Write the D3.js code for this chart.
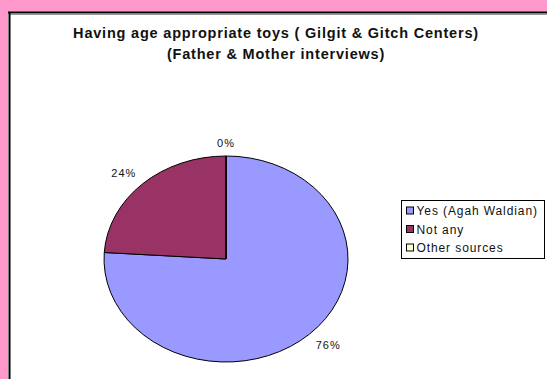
<!DOCTYPE html>
<html>
<head>
<meta charset="utf-8">
<script src="https://cdn.jsdelivr.net/npm/d3@7"></script>
<style>
  body { margin: 0; background: #ff99cc; }
  svg { display: block; }
</style>
</head>
<body>
<svg width="547" height="379"></svg>
<script>
var categories = ["Yes (Agah Waldian)", "Not any", "Other sources"];
var values = [76, 24, 0];
var colors = ["#9999ff", "#993366", "#ffffcc"];
var titleLines = ["Having age appropriate toys ( Gilgit & Gitch Centers)", "(Father & Mother interviews)"];

var svg = d3.select("svg");
var font = "Liberation Sans, Arial, sans-serif";

// white chart area, black frame on left/top
svg.append("rect").attr("x", 8).attr("y", 12).attr("width", 600).attr("height", 400)
  .style("fill", "#fff");
svg.append("line").attr("x1", 10).attr("x2", 547).attr("y1", 14.5).attr("y2", 14.5)
  .style("stroke", "#999").style("stroke-width", 1);
svg.append("line").attr("x1", 8).attr("x2", 547).attr("y1", 12.5).attr("y2", 12.5)
  .style("stroke", "#000").style("stroke-width", 2);
svg.append("line").attr("x1", 9.5).attr("x2", 9.5).attr("y1", 12).attr("y2", 379)
  .style("stroke", "#000").style("stroke-width", 2);

svg.selectAll("text.title").data(titleLines).enter().append("text")
  .attr("class", "title")
  .attr("x", 276)
  .attr("y", function(d, i) { return 37.5 + i * 21 })
  .attr("text-anchor", "middle")
  .attr("font-family", font)
  .attr("font-size", "14.5px")
  .attr("font-weight", "bold")
  .attr("letter-spacing", "0.8px")
  .style("fill", "#111")
  .text(function(d) { return d });

// pie drawn round, then squashed into an ellipse
var cx = 226, cy = 259, rx = 122, ry = 103;
var pie = d3.pie().sort(null).value(function(d) { return d });
var arcs = pie(values);
var arc = d3.arc().innerRadius(0).outerRadius(1);

var g = svg.append("g")
  .attr("transform", "translate(" + cx + "," + cy + ") scale(" + rx + "," + ry + ")");
g.selectAll("path").data(arcs).enter().append("path")
  .attr("d", arc)
  .attr("vector-effect", "non-scaling-stroke")
  .style("fill", function(d, i) { return colors[i] })
  .style("stroke", "#000")
  .style("stroke-width", 1);

// percentage labels just outside the rim
var total = d3.sum(values);
var gap = 9;
var sgn = function(v) { return Math.abs(v) < 1e-6 ? 0 : Math.sign(v) };
var labels = svg.selectAll("text.pct").data(arcs).enter().append("text")
  .attr("class", "pct")
  .attr("text-anchor", "middle")
  .attr("font-family", font)
  .attr("font-size", "11px")
  .attr("letter-spacing", "1px")
  .style("fill", "#111")
  .text(function(d) { return Math.round(d.value / total * 100) + "%" });
labels.each(function(d) {
  var a = (d.startAngle + d.endAngle) / 2;
  var s = Math.sin(a), c = Math.cos(a);
  var px = cx + s * rx, py = cy - c * ry;
  var hw = this.getComputedTextLength() / 2;
  d3.select(this)
    .attr("x", px + s * gap + sgn(s) * hw)
    .attr("y", py - c * gap - sgn(c) * 4 + 4);
});

// legend
var lg = svg.append("g").attr("transform", "translate(401.5,200.5)");
lg.append("rect").attr("x", 0).attr("y", 0).attr("width", 143).attr("height", 58)
  .style("fill", "#fff").style("stroke", "#000").style("stroke-width", 1);
var items = lg.selectAll("g").data(categories).enter().append("g")
  .attr("transform", function(d, i) { return "translate(5," + (10 + i * 18.5) + ")" });
items.append("rect").attr("x", 0).attr("y", -3.5).attr("width", 7).attr("height", 7)
  .style("fill", function(d, i) { return colors[i] })
  .style("stroke", "#000").style("stroke-width", 1);
items.append("text").attr("x", 10).attr("y", 4.5)
  .attr("font-family", font)
  .attr("font-size", "12px")
  .attr("letter-spacing", "0.9px")
  .style("fill", "#111")
  .text(function(d) { return d });
</script>
</body>
</html>
